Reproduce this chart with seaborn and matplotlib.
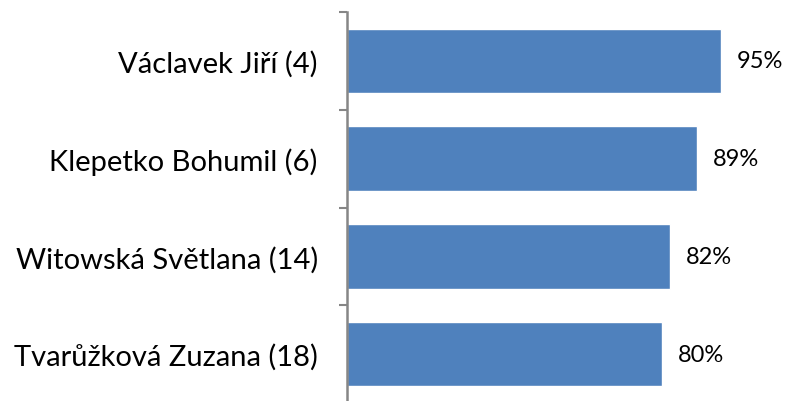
import numpy as np
import pandas as pd
import matplotlib.pyplot as plt
import seaborn as sns

names = ['Václavek Jiří (4)', 'Klepetko Bohumil (6)',
         'Witowská Světlana (14)', 'Tvarůžková Zuzana (18)']
shares = [95, 89, 82, 80]
value_labels = ['95%', '89%', '82%', '80%']

df = pd.DataFrame({'name': names, 'share': shares})

sns.set_theme(style='white')
plt.rcParams['font.family'] = ['Lato', 'DejaVu Sans']

fig = plt.figure(figsize=(7.87, 4.02), dpi=100)
ax = fig.add_axes([347 / 787, -2 / 402, 440 / 787, 391 / 402])

sns.barplot(data=df, x='share', y='name', orient='h', color='#4F81BD',
            saturation=1, width=0.66, ax=ax)

ax.set_xlim(0, 111.8)
ax.set_ylim(len(names) - 0.5, -0.5)
ax.set_xlabel('')
ax.set_ylabel('')
ax.set_xticks([])

# category labels without tick marks, tick marks on category borders
ax.tick_params(axis='y', which='major', left=True, length=0, pad=21,
               labelsize=21, labelcolor='black')
ax.set_yticks(np.arange(len(names) + 1) - 0.5, minor=True)
ax.tick_params(axis='y', which='minor', left=True, length=5.5, width=1.5,
               color='#868686', direction='out')

for s in ['top', 'right', 'bottom']:
    ax.spines[s].set_visible(False)
ax.spines['left'].set_color('#868686')
ax.spines['left'].set_linewidth(1.8)

for i, (v, t) in enumerate(zip(shares, value_labels)):
    ax.annotate(t, (v, i), xytext=(11.5, 0), textcoords='offset points',
                va='center', ha='left', fontsize=17, color='black')

fig.savefig('out.png', dpi=100)
